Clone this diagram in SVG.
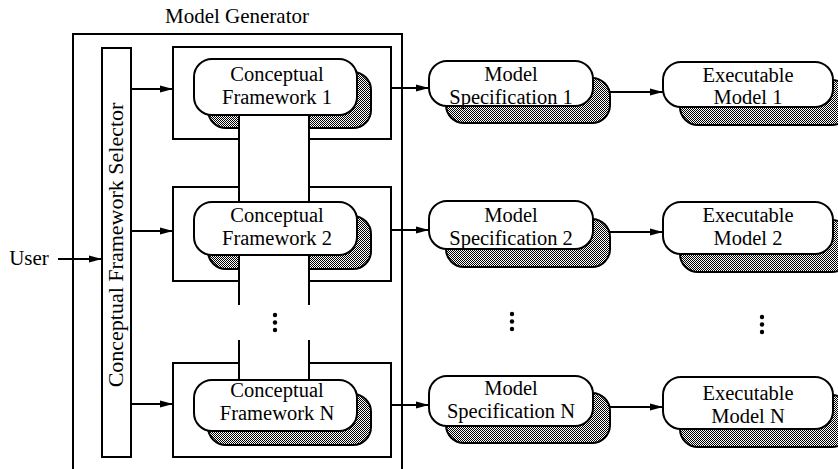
<svg xmlns="http://www.w3.org/2000/svg" width="838" height="469" viewBox="0 0 838 469">
<style>
  text { font-family: "Liberation Serif", "Times New Roman", serif; font-size: 20.5px; fill: #000; text-anchor: middle; }
  .ln { fill: none; stroke: #000; stroke-width: 2; }
  .node { fill: #fff; stroke: #000; stroke-width: 2; }
  .shadow { fill: url(#stip); stroke: #000; stroke-width: 2; }
  .wipe { fill: #fff; stroke: none; }
  .arrow { fill: none; stroke: #000; stroke-width: 1.8; marker-end: url(#ah); }
  .dot { fill: #000; }
</style>
<defs>
  <pattern id="stip" width="2" height="2" patternUnits="userSpaceOnUse">
    <rect width="2" height="2" fill="#fff"/>
    <rect width="1" height="1" fill="#000"/>
    <rect x="1" y="1" width="1" height="1" fill="#000"/>
  </pattern>
  <marker id="ah" markerUnits="userSpaceOnUse" markerWidth="13" markerHeight="8" refX="13" refY="4" orient="auto">
    <path d="M0,0.5 L13,4 L0,7.5 z" fill="#000"/>
  </marker>
</defs>
<rect width="838" height="469" fill="#fff"/>

<g id="model-generator">
  <text x="237" y="23" style="font-size:21px">Model Generator</text>
  <path class="ln" d="M73,475 V34 H402 V475"/>
</g>

<g id="selector">
  <rect class="node" x="102" y="48" width="29" height="409"/>
  <text transform="translate(123,245) rotate(-90)" style="font-size:22px">Conceptual Framework Selector</text>
</g>

<g id="user">
  <text x="29" y="265" style="font-size:21px">User</text>
</g>

<g id="cf1">
  <rect class="shadow" x="208" y="72" width="163" height="56" rx="18"/>
  <rect class="wipe" x="240" y="116" width="68" height="20"/>
  <path class="ln" d="M239,139 H173 V47 H391 V139 H309"/>
  <path class="ln" d="M239,115 V202 M309,115 V202"/>
  <rect class="node" x="194" y="59" width="163" height="56" rx="18"/>
  <text x="277" y="81">Conceptual</text>
  <text x="277" y="104">Framework 1</text>
</g>

<g id="cf2">
  <rect class="shadow" x="208" y="216" width="163" height="53" rx="18"/>
  <rect class="wipe" x="240" y="256" width="68" height="18"/>
  <path class="ln" d="M239,187 H173 V281 H239 M309,187 H391 V281 H309"/>
  <path class="ln" d="M239,255 V305 M309,255 V305"/>
  <rect class="node" x="194" y="202" width="163" height="53" rx="18"/>
  <text x="277" y="222">Conceptual</text>
  <text x="277" y="245">Framework 2</text>
</g>

<g id="cfN">
  <rect class="shadow" x="208" y="394" width="163" height="51" rx="18"/>
  <path class="ln" d="M239,340 V380 M309,340 V380"/>
  <path class="ln" d="M239,363 H173 V457 H391 V363 H309"/>
  <rect class="node" x="194" y="380" width="163" height="51" rx="18"/>
  <text x="277" y="397">Conceptual</text>
  <text x="277" y="420">Framework N</text>
</g>

<g id="spec1">
  <rect class="shadow" x="446" y="78" width="164" height="45" rx="18"/>
  <rect class="node" x="429" y="61" width="164" height="45" rx="18"/>
  <text x="511" y="81">Model</text>
  <text x="511" y="104">Specification 1</text>
</g>
<g id="spec2">
  <rect class="shadow" x="446" y="219" width="164" height="48" rx="18"/>
  <rect class="node" x="429" y="201" width="164" height="48" rx="18"/>
  <text x="511" y="222">Model</text>
  <text x="511" y="245">Specification 2</text>
</g>
<g id="specN">
  <rect class="shadow" x="446" y="393" width="164" height="50" rx="18"/>
  <rect class="node" x="429" y="376" width="164" height="50" rx="18"/>
  <text x="511" y="395">Model</text>
  <text x="511" y="418">Specification N</text>
</g>

<g id="exec1">
  <rect class="shadow" x="680" y="80" width="170" height="45" rx="18"/>
  <rect class="node" x="663" y="62" width="170" height="45" rx="18"/>
  <text x="748" y="82">Executable</text>
  <text x="748" y="104">Model 1</text>
</g>
<g id="exec2">
  <rect class="shadow" x="680" y="220" width="170" height="52" rx="18"/>
  <rect class="node" x="663" y="202" width="170" height="52" rx="18"/>
  <text x="748" y="222">Executable</text>
  <text x="748" y="245">Model 2</text>
</g>
<g id="execN">
  <rect class="shadow" x="680" y="395" width="170" height="52" rx="18"/>
  <rect class="node" x="663" y="377" width="170" height="52" rx="18"/>
  <text x="748" y="400">Executable</text>
  <text x="748" y="423">Model N</text>
</g>

<g id="ellipsis">
  <circle class="dot" cx="275" cy="315" r="2.2"/>
  <circle class="dot" cx="275" cy="322.5" r="2.2"/>
  <circle class="dot" cx="275" cy="330" r="2.2"/>
  <circle class="dot" cx="512" cy="314" r="2.2"/>
  <circle class="dot" cx="512" cy="321.5" r="2.2"/>
  <circle class="dot" cx="512" cy="329" r="2.2"/>
  <circle class="dot" cx="762" cy="317" r="2.2"/>
  <circle class="dot" cx="762" cy="324.5" r="2.2"/>
  <circle class="dot" cx="762" cy="332" r="2.2"/>
</g>

<g id="connectors">
  <line class="arrow" x1="58" y1="259" x2="102" y2="259"/>
  <line class="arrow" x1="131" y1="89" x2="173" y2="89"/>
  <line class="arrow" x1="131" y1="231" x2="173" y2="231"/>
  <line class="arrow" x1="131" y1="404" x2="173" y2="404"/>
  <line class="arrow" x1="391" y1="88" x2="429" y2="88"/>
  <line class="arrow" x1="391" y1="230" x2="429" y2="230"/>
  <line class="arrow" x1="391" y1="405" x2="429" y2="405"/>
  <line class="arrow" x1="610" y1="92" x2="663" y2="92"/>
  <line class="arrow" x1="610" y1="232" x2="663" y2="232"/>
  <line class="arrow" x1="610" y1="407" x2="663" y2="407"/>
</g>
</svg>
